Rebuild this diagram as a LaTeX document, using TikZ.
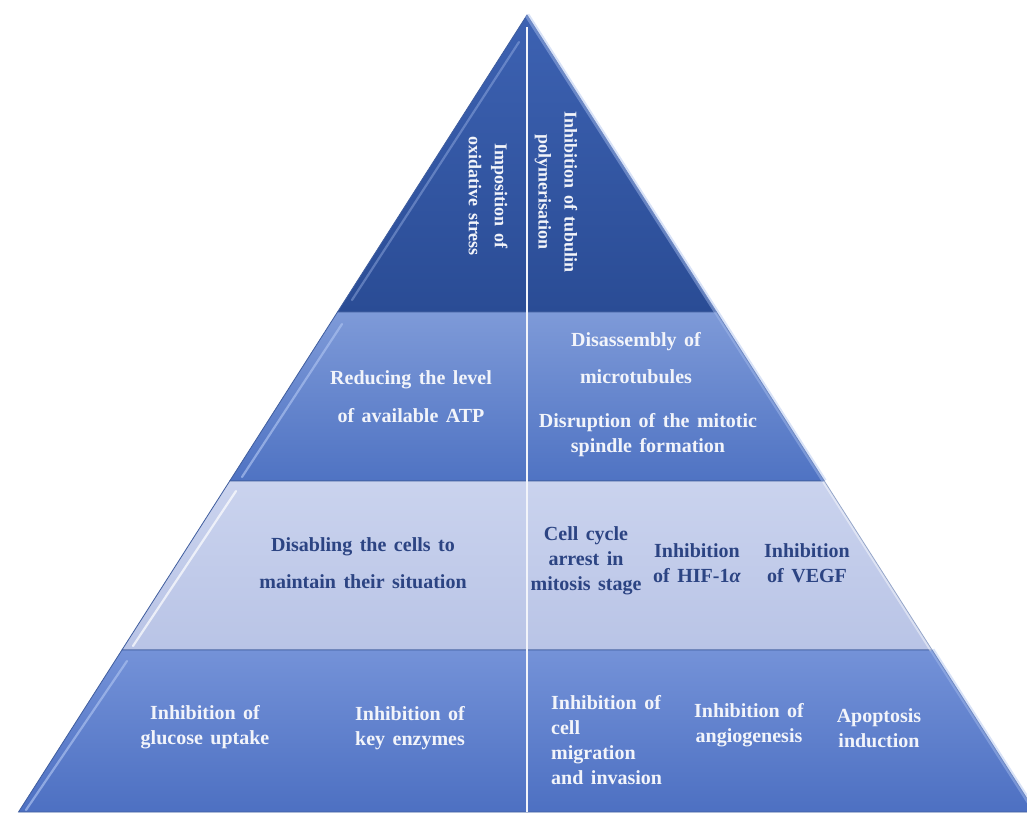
\documentclass[tikz,border=0pt]{standalone}
\usepackage{fontspec}
\setmainfont{Liberation Serif}[WordSpace=1.5]
\usepackage{tikz}
\usetikzlibrary{
	positioning
}

\definecolor{topHi}{HTML}{3D62B2}
\definecolor{topLo}{HTML}{2A4C95}
\definecolor{midHi}{HTML}{7E9AD8}
\definecolor{midLo}{HTML}{4F73C3}
\definecolor{paleHi}{HTML}{CAD3EE}
\definecolor{paleLo}{HTML}{B9C4E6}
\definecolor{baseHi}{HTML}{7492D8}
\definecolor{baseLo}{HTML}{4D70C2}
\definecolor{rim}{HTML}{3F5D9E}
\definecolor{glint}{HTML}{A9BFEE}
\definecolor{navy}{HTML}{2C4483}
\definecolor{snow}{HTML}{F2F4FA}

\tikzset{
	tier/.style={draw=rim, line width=0.8pt},
	glintline/.style={draw=glint, line width=2.2pt, line cap=round, opacity=0.7},
	edgeband/.style={draw=glint, line width=5pt, opacity=0.45},
	lbl/.style={text=snow, font=\bfseries\fontsize{20}{25}\selectfont, align=center, inner sep=0pt},
	lbldark/.style={lbl, text=navy},
	lblrot/.style={lbl, font=\bfseries\fontsize{18}{26}\selectfont, rotate=-90}
}

\begin{document}
\begin{tikzpicture}[x=1pt,y=-1pt]
    \useasboundingbox (0,0) rectangle (1027,812);

    % corners of the pyramid
    \coordinate (apex) at (527,15);
    \coordinate (l1) at (337.5,312);  \coordinate (r1) at (716.5,312);
    \coordinate (l2) at (229.7,481);  \coordinate (r2) at (824.3,481);
    \coordinate (l3) at (121.9,650);  \coordinate (r3) at (932.1,650);
    \coordinate (l4) at (18.5,812);   \coordinate (r4) at (1035.5,812);

    % tiers
    \shade[tier, top color=topHi, bottom color=topLo] (apex) -- (r1) -- (l1) -- cycle;
    \shade[tier, top color=midHi, bottom color=midLo] (l1) -- (r1) -- (r2) -- (l2) -- cycle;
    \shade[tier, top color=paleHi, bottom color=paleLo] (l2) -- (r2) -- (r3) -- (l3) -- cycle;
    \shade[tier, top color=baseHi, bottom color=baseLo] (l3) -- (r3) -- (r4) -- (l4) -- cycle;

    % bevel glints
    \draw[glintline, opacity=0.4] (519,42) -- (352,300);
    \draw[glintline] (342,324) -- (242,477);
    \draw[glintline, draw=white] (236,491) -- (133,646);
    \draw[glintline] (127,661) -- (26,810);
    \draw[edgeband] (apex) -- (r1);
    \draw[edgeband] (r1) -- (r2);
    \draw[edgeband, draw=white] (r2) -- (r3);
    \draw[edgeband] (r3) -- (r4);

    % divider
    \draw[snow, line width=1.6pt] (527,27) -- (527,812);

    % top tier
    \node[lblrot] (oxid) at (488,196) {Imposition of\\oxidative stress};
    \node[lblrot] (tubul) at (556,192) {Inhibition of tubulin\\polymerisation};

    % second tier
    \node[lbl, font=\bfseries\fontsize{20}{38}\selectfont] (atp) at (411,397) {Reducing the level\\of available ATP};
    \node[lbl, font=\bfseries\fontsize{20}{37}\selectfont] (micro) at (636,358) {Disassembly of\\microtubules};
    \node[lbl] (spindle) at (648,435) {Disruption of the mitotic\\spindle formation};

    % third tier
    \node[lbldark, font=\bfseries\fontsize{20}{37}\selectfont] (disable) at (363,563) {Disabling the cells to\\maintain their situation};
    \node[lbldark] (arrest) at (586,561) {Cell cycle\\arrest in\\mitosis stage};
    \node[lbldark] (hif) at (697,563) {Inhibition\\of HIF-1\textit{α}};
    \node[lbldark, right=110pt of hif.center, anchor=center] (vegf) {Inhibition\\of VEGF};

    % bottom tier
    \node[lbl] (glucose) at (205,727) {Inhibition of\\glucose uptake};
    \node[lbl] (enzymes) at (410,728) {Inhibition of\\key enzymes};
    \node[lbl, align=left, anchor=west] (migr) at (551,740) {Inhibition of\\cell\\migration\\and invasion};
    \node[lbl] (angio) at (749,725) {Inhibition of\\angiogenesis};
    \node[lbl] (apopt) at (879,728) {Apoptosis\\induction};
\end{tikzpicture}
\end{document}
